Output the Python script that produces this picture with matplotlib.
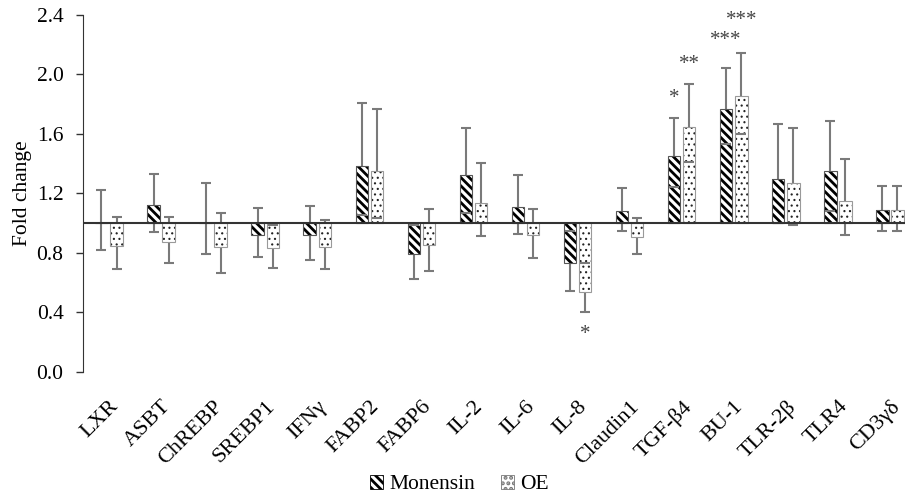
import numpy as np
import matplotlib
matplotlib.use("Agg")
import matplotlib.pyplot as plt
from matplotlib.patches import Patch

plt.rcParams['font.family'] = ['Liberation Serif', 'DejaVu Serif']
plt.rcParams['hatch.linewidth'] = 2.0

# genes on the x axis
genes = ["LXR", "ASBT", "ChREBP", "SREBP1", "IFNγ", "FABP2", "FABP6", "IL-2",
         "IL-6", "IL-8", "Claudin1", "TGF-β4", "BU-1", "TLR-2β", "TLR4", "CD3γδ"]

# Monensin: mean fold change, lower and upper end of error bar
mon = [1.00, 1.12, 1.00, 0.92, 0.92, 1.385, 0.79, 1.325,
       1.11, 0.73, 1.082, 1.451, 1.769, 1.296, 1.352, 1.086]
mon_lo = [0.82, 0.94, 0.79, 0.773, 0.755, 1.055, 0.622, 1.07,
          0.928, 0.543, 0.947, 1.244, 1.533, 1.00, 1.08, 0.946]
mon_hi = [1.226, 1.334, 1.271, 1.104, 1.116, 1.807, 0.99, 1.638,
          1.321, 0.95, 1.24, 1.706, 2.046, 1.67, 1.686, 1.248]

# OE
oe = [0.85, 0.874, 0.84, 0.835, 0.838, 1.352, 0.857, 1.134,
      0.92, 0.536, 0.906, 1.65, 1.852, 1.273, 1.147, 1.086]
oe_lo = [0.694, 0.732, 0.663, 0.699, 0.692, 1.037, 0.676, 0.917,
         0.766, 0.401, 0.793, 1.413, 1.60, 0.987, 0.919, 0.946]
oe_hi = [1.041, 1.041, 1.07, 0.99, 1.021, 1.767, 1.093, 1.404,
         1.097, 0.73, 1.034, 1.936, 2.145, 1.641, 1.429, 1.248]

# significance marks: (gene index, series, label, y)
stars = [(11, "mon", "*", 1.84), (11, "oe", "**", 2.067),
         (12, "mon", "***", 2.227), (12, "oe", "***", 2.36),
         (9, "oe", "*", 0.25)]

base = 1.0
x = np.arange(len(genes))
off = 0.145
w = 0.24

fig = plt.figure(figsize=(9.05, 4.98), dpi=100)
ax = fig.add_axes([0.0917, 0.253, 0.9204, 0.717])

ecol = '#7a7a7a'
for xs, m, lo, hi in [(x - off, mon, mon_lo, mon_hi), (x + off, oe, oe_lo, oe_hi)]:
    m = np.array(m)
    yerr = [m - np.array(lo), np.array(hi) - m]
    eb = ax.errorbar(xs, m, yerr=yerr, fmt='none', ecolor=ecol, elinewidth=1.5,
                     capsize=3.8, capthick=1.5, zorder=1)
    for c in eb[1]:
        c.set_zorder(4)

mh = np.array(mon) - base
oh = np.array(oe) - base
ax.bar(x - off, mh, w, bottom=base, color='white', edgecolor='black',
       hatch='\\\\\\\\', linewidth=0, zorder=2)
ax.bar(x - off, mh, w, bottom=base, fill=False, edgecolor='#555555',
       linewidth=0.8, zorder=3)
dots = ax.bar(x + off, oh, w, bottom=base, color='white', edgecolor='#222222',
              hatch='...', linewidth=0, zorder=2)
for p in dots:
    if hasattr(p, 'set_hatch_linewidth'):
        p.set_hatch_linewidth(0.8)
ax.bar(x + off, oh, w, bottom=base, fill=False, edgecolor='#9a9a9a',
       linewidth=0.8, zorder=3)

ax.axhline(base, color='#333333', linewidth=1.5, zorder=5)

for i, s, lab, yv in stars:
    xv = i - off if s == "mon" else i + off
    ax.text(xv, yv, lab, ha='center', va='center', fontsize=15, color='#444444')

ax.set_xlim(-0.5, len(genes) - 0.5)
ax.set_ylim(0, 2.4)
ax.set_yticks([0.0, 0.4, 0.8, 1.2, 1.6, 2.0, 2.4])
ax.set_yticklabels(["0.0", "0.4", "0.8", "1.2", "1.6", "2.0", "2.4"], fontsize=15.5)
ax.tick_params(axis='y', direction='out', length=5, width=1, color='#333333', pad=9)
ax.set_xticks(x)
ax.set_xticklabels(genes, rotation=45, ha='right', va='top', rotation_mode='anchor',
                   fontsize=16)
ax.tick_params(axis='x', length=0, pad=18)
for sp in ['top', 'right', 'bottom']:
    ax.spines[sp].set_visible(False)
ax.spines['left'].set_color('#333333')
ax.set_ylabel("Fold change", fontsize=15.5, labelpad=3)

handles = [Patch(facecolor='white', edgecolor='black', hatch='\\\\\\\\', linewidth=0.6),
           Patch(facecolor='white', edgecolor='#777777', hatch='...', linewidth=0.6)]
fig.legend(handles, ["Monensin", "OE"], loc='center', bbox_to_anchor=(0.508, 0.027),
           ncol=2, frameon=False, fontsize=15.5, handlelength=0.6, handleheight=0.6,
           handletextpad=0.3, columnspacing=1.2)

fig.savefig("out.png", dpi=100)
